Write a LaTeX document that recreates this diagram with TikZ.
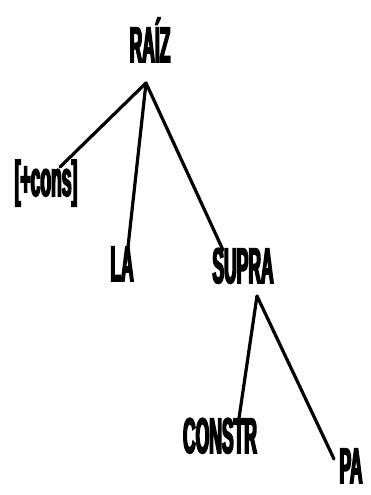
\documentclass[tikz,border=0pt]{standalone}
\usepackage{fontspec}
\newfontfamily\treefont{Liberation Sans}[FakeStretch=0.35,FakeBold=3]

\begin{document}
\begin{tikzpicture}[x=1pt,y=-1pt,
    lbl/.style={inner sep=0pt,anchor=base,font=\fontsize{50}{52}\selectfont\treefont\bfseries},
    edge/.style={line width=3.2pt,line cap=round,line join=round}]
	\useasboundingbox (0,0) rectangle (370,495);
	% labels
	\node[lbl] (raiz) at (150,62) {RAÍZ};
	\node[lbl] (cons) at (46,196) {[+cons]};
	\node[lbl] (la) at (122,281) {LA};
	\node[lbl] (supra) at (243,283) {SUPRA};
	\node[lbl] (constr) at (220,453) {CONSTR};
	\node[lbl] (pa) at (351,483) {PA};
	% branching points
	\coordinate (top) at (146,83);
	\coordinate (sub) at (257,296);
	\coordinate (consend) at (60,167);
	\coordinate (laend) at (127,256);
	\coordinate (supraend) at (223,250);
	\coordinate (constrend) at (238,425);
	\coordinate (paend) at (334,459);
	% branches
	\draw[edge] (top) -- (consend);
	\draw[edge] (top) -- (laend);
	\draw[edge] (top) -- (supraend);
	\draw[edge] (sub) -- (constrend);
	\draw[edge] (sub) -- (paend);
\end{tikzpicture}
\end{document}
